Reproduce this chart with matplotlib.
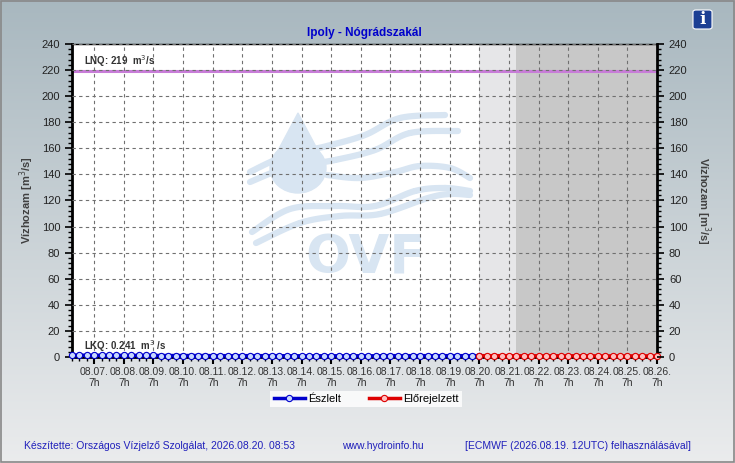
import numpy as np
import matplotlib
matplotlib.use("Agg")
import matplotlib.pyplot as plt
import matplotlib.dates as mdates
import matplotlib.patches as mpatches
import pandas as pd
from matplotlib.ticker import MultipleLocator

plt.rcParams['font.family'] = ['Liberation Sans', 'DejaVu Sans']

# adatok
cim = "Ipoly - Nógrádszakál"
eszlelt_ido = pd.date_range("2026-08-06 13:00", "2026-08-20 07:00", freq="6h")
eszlelt = [1.4, 1.4, 1.3, 1.3, 1.3, 1.3, 1.2, 1.2, 1.2, 1.2, 1.2, 1.2, 1.1, 1.1,
           1.1, 1.1, 1.1, 1.1, 1.1, 1.0, 1.0, 1.0, 1.0, 1.0, 1.0, 1.0, 1.0, 1.0,
           1.0, 0.9, 0.9, 0.9, 0.9, 0.9, 0.9, 0.9, 0.9, 0.9, 0.9, 0.9, 0.9, 0.9,
           1.0, 1.0, 1.0, 1.0, 1.0, 1.0, 1.0, 1.0, 1.0, 1.0, 1.0, 1.0, 1.0, 1.0]
elore_ido = pd.date_range("2026-08-20 07:00", "2026-08-26 07:00", freq="6h")
elore = [1.0, 1.0, 1.0, 1.0, 1.0, 0.9, 0.9, 0.9, 0.9, 0.9, 0.9, 0.9, 0.9,
         0.9, 0.9, 0.9, 0.8, 0.8, 0.8, 0.8, 0.8, 0.8, 0.8, 0.8, 0.8]
LNQ = 219
LKQ = 0.241
x_min, x_max = pd.Timestamp("2026-08-06 13:00"), pd.Timestamp("2026-08-26 07:00")
bizonytalan_kezd = pd.Timestamp("2026-08-20 07:00")
sotet_kezd = pd.Timestamp("2026-08-21 13:00")
napok = pd.date_range("2026-08-07 07:00", "2026-08-26 07:00", freq="1D")
nap_cimkek = [d.strftime("%m.%d.") + "\n7h" for d in napok]

W, H = 735, 463
fig = plt.figure(figsize=(W / 100, H / 100), dpi=100)


def px(x, y):
    # kepernyo pixel -> abra arany
    return x / W, 1 - y / H


def hullam(pontok, ax, szin, lw):
    # sima gorbe a pontokon at (Catmull-Rom)
    p = np.array([px(*q) for q in pontok])
    p = np.vstack([p[0], p, p[-1]])
    xs, ys = [], []
    for i in range(1, len(p) - 2):
        p0, p1, p2, p3 = p[i - 1], p[i], p[i + 1], p[i + 2]
        t = np.linspace(0, 1, 20)[:, None]
        c = 0.5 * ((2 * p1) + (-p0 + p2) * t + (2 * p0 - 5 * p1 + 4 * p2 - p3) * t ** 2
                   + (-p0 + 3 * p1 - 3 * p2 + p3) * t ** 3)
        xs.extend(c[:, 0])
        ys.extend(c[:, 1])
    ax.plot(xs, ys, transform=fig.transFigure, color=szin, lw=lw, zorder=0.5,
            solid_capstyle='round')


# hatter szinatmenet
bg = fig.add_axes([0, 0, 1, 1], zorder=-10)
grad = np.linspace(0, 1, 256)[:, None]
c_top = np.array([0.66, 0.72, 0.75])
c_bot = np.array([0.92, 0.925, 0.93])
img = c_top[None, None, :] * (1 - grad[:, :, None]) + c_bot[None, None, :] * grad[:, :, None]
bg.imshow(img, aspect='auto', extent=[0, 1, 0, 1])
bg.set_xlim(0, 1)
bg.set_ylim(0, 1)
bg.axis('off')
bg.add_patch(plt.Rectangle((0.002, 0.002), 0.996, 0.995, fill=False, ec='#888888', lw=1.2))

ax = fig.add_axes([0.098, 0.229, 0.796, 0.676])
ax.set_facecolor('white')

# elorejelzes hatter
ax.axvspan(bizonytalan_kezd, sotet_kezd, color='#e6e6e8', zorder=0, lw=0)
ax.axvspan(sotet_kezd, x_max, color='#c8c8c8', zorder=0, lw=0)

# OVF vizjel
wm = '#d8e5f2'
ax.text(*px(366, 258), "OVF", transform=fig.transFigure, ha='center', va='center',
        fontsize=38, fontweight='heavy', color=wm, zorder=0.5, family='DejaVu Sans')
hullam([(250, 172), (275, 160), (300, 152), (327, 146), (365, 135), (400, 118), (445, 115)], ax, wm, 4.5)
hullam([(250, 182), (280, 170), (310, 164), (335, 160), (375, 150), (410, 133), (458, 131)], ax, wm, 4.5)
hullam([(327, 175), (360, 178), (395, 172), (420, 166), (450, 168), (470, 178)], ax, wm, 4.5)
hullam([(252, 232), (290, 209), (335, 206), (375, 206), (415, 191), (445, 188), (470, 191)], ax, wm, 4.5)
hullam([(256, 243), (300, 223), (340, 216), (380, 214), (428, 198), (450, 194), (470, 195)], ax, wm, 4.5)
ax.add_patch(mpatches.Ellipse(px(298, 168), 56 / W, 50 / H, transform=fig.transFigure,
                              color=wm, zorder=0.5))
ax.add_patch(mpatches.Polygon([px(273, 160), px(323, 160), px(298, 113)],
                              transform=fig.transFigure, color=wm, zorder=0.5))

# racs
ax.grid(True, which='major', color='#707070', ls=(0, (3, 3)), lw=0.8, zorder=1)
ax.set_axisbelow(False)

ax.axhline(LNQ, color='#c87dd8', lw=2.2, zorder=2)
ax.text(x_min + pd.Timedelta(hours=10), LNQ + 2, "LNQ: 219  m$^{3}$/s", fontsize=7,
        color='#333333', va='bottom', zorder=3, fontweight='bold')
ax.text(x_min + pd.Timedelta(hours=10), LKQ + 2, "LKQ: 0.241  m$^{3}$ /s", fontsize=7,
        color='#333333', va='bottom', zorder=3, fontweight='bold')

ax.plot(eszlelt_ido, eszlelt, color='#0000cc', lw=2.5, marker='o', ms=4.5,
        mfc='#c8d8ff', mec='#0000cc', mew=0.8, zorder=4, clip_on=False, label='Észlelt')
ax.plot(elore_ido, elore, color='#dd0000', lw=2.5, marker='o', ms=4.5,
        mfc='#ffc0c0', mec='#dd0000', mew=0.8, zorder=4, clip_on=False, label='Előrejelzett')

ax.set_xlim(x_min, x_max)
ax.set_ylim(0, 240)
ax.yaxis.set_major_locator(MultipleLocator(20))
ax.yaxis.set_minor_locator(MultipleLocator(4))
ax.set_xticks(napok)
ax.set_xticklabels(nap_cimkek)
ax.xaxis.set_minor_locator(mdates.HourLocator(byhour=[1, 13, 19]))
ax.tick_params(axis='x', which='major', length=5, width=1.5, labelsize=7.5,
               colors='black', labelcolor='#333333', pad=2)
ax.tick_params(axis='x', which='minor', length=3, width=1)
ax.tick_params(axis='y', which='major', length=5, width=1.2, labelsize=8, labelcolor='#222222')
ax.tick_params(axis='y', which='minor', length=3, width=1)
for s in ['left', 'right', 'bottom']:
    ax.spines[s].set_linewidth(2)
ax.spines['top'].set_linewidth(1)
ax.set_ylabel("Vízhozam [m$^{3}$/s]", fontsize=8, fontweight='bold', color='#404040', labelpad=4)

ax2 = ax.twinx()
ax2.set_ylim(0, 240)
ax2.yaxis.set_major_locator(MultipleLocator(20))
ax2.yaxis.set_minor_locator(MultipleLocator(4))
ax2.tick_params(axis='y', which='major', length=5, width=1.2, labelsize=8, labelcolor='#222222')
ax2.tick_params(axis='y', which='minor', length=3, width=1)
for s in ax2.spines.values():
    s.set_visible(False)
ax2.set_ylabel("Vízhozam [m$^{3}$/s]", fontsize=8, fontweight='bold', color='#404040',
               rotation=270, labelpad=18)

ax.set_title(cim, fontsize=8.5, fontweight='bold', color='#0000cc', pad=6)

leg = fig.legend(handles=ax.get_lines()[-2:], loc='center', bbox_to_anchor=(0.498, 0.138),
                 ncol=2, fontsize=8, frameon=True, fancybox=False, edgecolor='white',
                 handlelength=2.8, columnspacing=2.5, borderpad=0.3, handletextpad=0.3)
leg.get_frame().set_linewidth(0)

fc = '#2020bb'
fig.text(*px(24, 446), "Készítette: Országos Vízjelző Szolgálat, 2026.08.20. 08:53",
         fontsize=7.5, color=fc, va='center')
fig.text(*px(342, 446), "www.hydroinfo.hu", fontsize=7.5, color=fc, va='center')
fig.text(*px(465, 446), "[ECMWF (2026.08.19. 12UTC) felhasználásával]",
         fontsize=7.5, color=fc, va='center')

# info ikon
bg.add_patch(mpatches.FancyBboxPatch(px(693, 29), 19 / W, 19 / H,
                                     boxstyle='round,pad=0,rounding_size=0.004',
                                     transform=fig.transFigure, fc='#1c3f94', ec='white', lw=0.8))
fig.text(*px(702.5, 19.5), "i", fontsize=12, fontweight='bold', color='white',
         ha='center', va='center', family='DejaVu Serif')

fig.savefig("out.png", dpi=100)
